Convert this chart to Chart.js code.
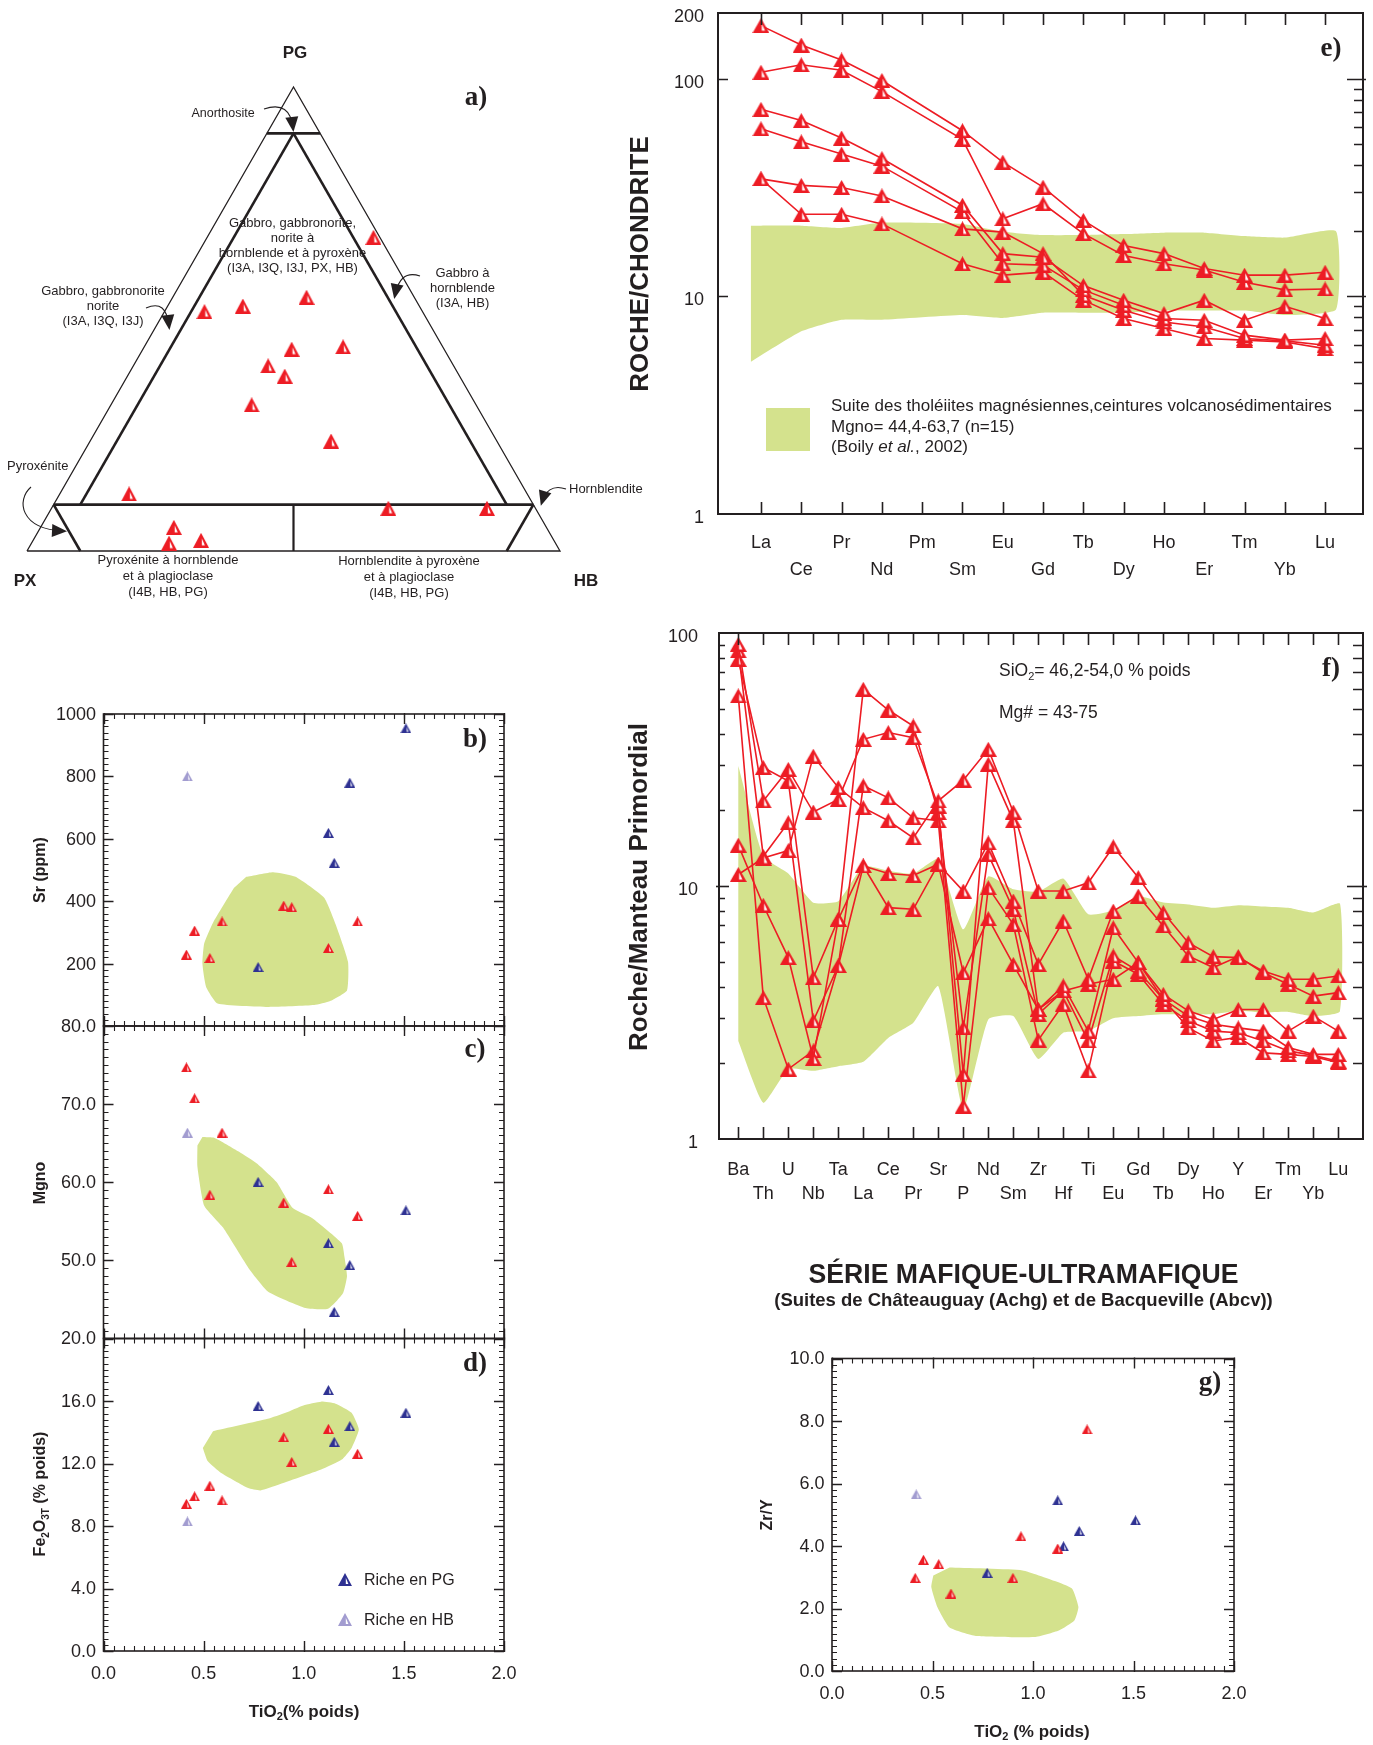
<!DOCTYPE html>
<html>
<head>
<meta charset="utf-8">
<script src="https://cdn.jsdelivr.net/npm/chart.js@4.4.0/dist/chart.umd.min.js"></script>
<style>
html, body { margin: 0; padding: 0; background: #fff; }
#page { position: relative; width: 1373px; height: 1745px; overflow: hidden; }
#page canvas { position: absolute; left: 0; top: 0; width: 1373px; height: 1745px; }
</style>
</head>
<body>
<div id="page">
<canvas id="cA" width="1373" height="1745"></canvas>
<canvas id="cE" width="1373" height="1745"></canvas>
<canvas id="cF" width="1373" height="1745"></canvas>
<canvas id="cB" width="1373" height="1745"></canvas>
<canvas id="cC" width="1373" height="1745"></canvas>
<canvas id="cD" width="1373" height="1745"></canvas>
<canvas id="cG" width="1373" height="1745"></canvas>
</div>
<script>
// ---- a) ternary PG / PX / HB (%)
var terPG = [67.6, 51.6, 52.8, 54.7, 43.5, 44.0, 39.9, 37.7, 31.5, 23.7, 12.3, 9.2, 9.2, 5.1, 1.7, 2.3];
var terPX = [1.2, 40.9, 33.1, 20.2, 28.6, 18.7, 34.8, 32.8, 42.1, 31.1, 74.7, 27.6, 9.1, 69.9, 72.5, 66.2];
var terHB = [31.2, 7.5, 14.1, 25.1, 27.9, 37.3, 25.3, 29.5, 26.4, 45.2, 13.0, 63.2, 81.7, 25.0, 25.8, 31.5];

// ---- e) REE / chondrite
var reeLabels = ['La', 'Ce', 'Pr', 'Nd', 'Pm', 'Sm', 'Eu', 'Gd', 'Tb', 'Dy', 'Ho', 'Er', 'Tm', 'Yb', 'Lu'];
var reeA = [175, 142.5, 121.7, 98.0, null, 57.6, 41.3, 31.7, 22.3, 17.1, 15.7, 13.4, 12.5, 12.5, 12.9];
var reeB = [106.9, 115.7, 109.1, 87.1, null, 52.6, 22.7, 26.6, 19.4, 15.4, 14.1, 13.2, 11.6, 10.7, 10.8];
var reeC = [72.2, 64.1, 53.3, 42.9, null, 26.2, 15.7, 15.1, 11.2, 9.59, 8.33, 9.59, 7.76, 9.0, 7.9];
var reeD = [58.8, 51.2, 45.0, 39.6, null, 24.4, 14.1, 13.9, 10.7, 9.09, 7.90, 7.76, 6.63, 6.29, 6.40];
var reeE = [34.6, 32.3, 31.6, 28.9, null, 20.4, 19.7, 15.7, 10.1, 8.63, 7.62, 7.23, 6.40, 6.24, 5.96];
var reeF = [34.6, 23.8, 23.8, 21.5, null, 14.1, 12.5, 12.9, 9.6, 7.9, 7.11, 6.40, 6.29, 6.17, 5.75];
var reeBandX = [-0.25, 0, 1, 2, 3, 5, 6, 7, 8, 9, 10, 11, 12, 13, 14.27, 14.27, 13, 12, 11, 10, 9, 8, 7, 6, 5, 3, 2, 1, -0.25];
var reeBandY = [21.1, 21.1, 21.1, 20.6, 21.8, 21.5, 19.8, 19.1, 19.1, 19.3, 19.6, 19.6, 18.9, 18.6, 19.9, 8.7, 8.2, 8.6, 8.6, 8.6, 8.4, 8.4, 8.4, 7.95, 8.2, 7.8, 7.8, 6.9, 5.0];
var reeTicks = [1, 10, 100, 200];

// ---- f) primitive mantle
var spLabels = ['Ba', 'Th', 'U', 'Nb', 'Ta', 'La', 'Ce', 'Pr', 'Sr', 'P', 'Nd', 'Sm', 'Zr', 'Hf', 'Ti', 'Eu', 'Gd', 'Tb', 'Dy', 'Ho', 'Y', 'Er', 'Tm', 'Yb', 'Lu'];
var spA = [11.1, 12.9, 13.8, 32.6, 24.5, 20.4, 18.1, 15.5, 21.7, 26.2, 34.7, 19.6, 9.55, 9.55, 10.3, 14.3, 10.8, 7.85, 5.97, 5.26, 5.21, 4.61, 4.28, 4.28, 4.41];
var spB = [14.5, 8.39, 5.21, 2.08, 7.38, 12.0, 8.21, 8.09, 12.2, 9.55, 14.8, 8.72, 4.90, 7.27, 4.28, 7.96, 9.13, 6.95, 5.29, 4.76, 5.26, 4.54, 4.09, 3.67, 3.79];
var spC = [90.2, 21.7, 28.9, 19.6, 22.0, 38.0, 40.4, 38.6, 20.7, 1.80, 30.3, 18.1, 3.25, 4.03, 2.67, 6.84, 4.98, 3.73, 3.21, 2.97, 3.25, 3.25, 2.67, 3.06, 2.67];
var spD = [78.7, 29.4, 26.0, 4.34, 7.38, 59.9, 49.6, 42.9, 19.5, 2.75, 13.3, 8.09, 3.11, 3.85, 2.44, 5.29, 4.61, 3.57, 3.06, 2.84, 2.75, 2.67, 2.30, 2.16, 2.16];
var spE = [56.4, 3.62, 1.89, 2.23, 4.83, 24.9, 22.3, 18.6, 18.1, 1.35, 9.85, 7.06, 2.46, 3.41, 1.86, 5.05, 4.48, 3.41, 2.93, 2.67, 2.63, 2.44, 2.23, 2.14, 2.03];
var spF = [85.0, 13.1, 17.8, 2.93, 4.83, 12.0, 11.2, 11.0, 12.2, 4.54, 7.43, 4.90, 3.25, 3.85, 4.09, 4.28, 4.98, 3.57, 2.75, 2.44, 2.52, 2.19, 2.16, 2.12, 2.00];
var spBandX = [0, 1, 2, 3, 4, 5, 6, 7, 8, 9, 10, 11, 12, 13, 14, 15, 16, 17, 18, 19, 20, 21, 22, 23, 24.07,
               24.07, 23, 22, 21, 20, 19, 18, 17, 16, 15, 14, 13, 12, 11, 10, 9, 8, 7, 6, 5, 4, 3, 2, 1, 0];
var spBandY = [29.8, 13.1, 11.2, 8.59, 8.7, 12.0, 11.5, 11.2, 12.8, 6.74, 10.9, 9.7, 9.5, 10.7, 7.73, 8.0, 9.1, 8.6, 8.45, 8.2, 8.4, 8.3, 8.2, 7.85, 8.5,
               3.2, 3.06, 3.18, 3.16, 3.21, 3.11, 3.11, 3.11, 3.06, 3.0, 2.67, 2.63, 2.07, 3.06, 2.97, 1.31, 4.02, 2.88, 2.51, 2.02, 1.94, 1.86, 1.89, 1.39, 2.44];
var spTicks = [1, 10, 100];

// ---- b, c, d, g) vs TiO2
var redTi = [0.414, 0.455, 0.531, 0.592, 0.90, 0.94, 1.123, 1.269];
var redSr = [229, 306, 218, 335, 386, 381, 250, 335];
var redMg = [74.7, 70.75, 58.4, 66.35, 57.4, 49.8, 59.1, 55.7];
var redFe = [9.42, 9.9, 10.58, 9.64, 13.69, 12.1, 14.22, 12.62];
var redZrY = [2.98, 3.56, 3.42, 2.48, 2.98, 4.31, 3.92, 7.73];
var pgTi = [0.772, 1.123, 1.152, 1.23, 1.51];
var pgSr = [189, 619, 523, 780, 954];
var pgMg = [60.05, 52.2, 43.4, 49.4, 56.4];
var pgFe = [15.68, 16.7, 13.39, 14.39, 15.25];
var pgZrY = [3.14, 5.46, 3.99, 4.48, 4.82];
var hbTi = [0.419];
var hbSr = [800];
var hbMg = [66.35];
var hbFe = [8.29];
var hbZrY = [5.65];

var bPolyX = [0.713, 0.847, 0.959, 1.102, 1.159, 1.221, 1.216, 1.132, 1.052, 0.82, 0.57, 0.512, 0.494, 0.503, 0.547, 0.651];
var bPolyY = [478, 493, 478, 411, 326, 206, 114, 80, 67, 61, 72, 126, 200, 265, 331, 442];
var cPolyX = [0.494, 0.553, 0.677, 0.766, 0.865, 0.945, 1.043, 1.19, 1.203, 1.216, 1.196, 1.121, 1.009, 0.822, 0.73, 0.597, 0.503, 0.469, 0.469];
var cPolyY = [65.8, 65.7, 63.9, 62.4, 60.0, 56.7, 55.4, 52.2, 50.5, 48.0, 45.8, 43.8, 43.9, 46.0, 48.8, 54.2, 57.0, 62.0, 64.7];
var dPolyX = [0.547, 0.82, 0.909, 0.998, 1.087, 1.159, 1.239, 1.275, 1.239, 1.19, 1.087, 0.873, 0.784, 0.722, 0.588, 0.521, 0.496];
var dPolyY = [14.07, 14.86, 15.25, 15.72, 15.96, 15.83, 15.25, 14.18, 13.0, 12.25, 11.61, 10.64, 10.28, 10.43, 11.39, 12.14, 13.0];
var gPolyX = [0.585, 0.948, 1.109, 1.194, 1.226, 1.206, 1.129, 1.008, 0.716, 0.585, 0.524, 0.494, 0.504];
var gPolyY = [3.31, 3.22, 2.88, 2.64, 2.05, 1.62, 1.30, 1.09, 1.12, 1.39, 2.05, 2.69, 3.06];

var tiTicks = [0, 0.5, 1, 1.5, 2];
var tiLabels = ['0.0', '0.5', '1.0', '1.5', '2.0'];
var srTicks = [200, 400, 600, 800, 1000];
var srLabels = ['200', '400', '600', '800', '1000'];
var mgTicks = [50, 60, 70, 80];
var mgLabels = ['50.0', '60.0', '70.0', '80.0'];
var feTicks = [0, 4, 8, 12, 16, 20];
var feLabels = ['0.0', '4.0', '8.0', '12.0', '16.0', '20.0'];
var zrTicks = [0, 2, 4, 6, 8, 10];
var zrLabels = ['0.0', '2.0', '4.0', '6.0', '8.0', '10.0'];

// ---------------------------------------------------------------
var W = 1373, H = 1745;
var INK = '#231f20', RED = '#ed1c24', NAVY = '#2e3192', LAV = '#a29cd0', GREEN = '#d4e28d';
var SANS = '"Liberation Sans", Arial, Helvetica, sans-serif';
var SERIF = '"Liberation Serif", "Times New Roman", serif';

function tri(w, h, col) {
  var c = document.createElement('canvas');
  c.width = w; c.height = h;
  var g = c.getContext('2d');
  g.fillStyle = col;
  g.beginPath(); g.moveTo(w / 2, 0); g.lineTo(w, h); g.lineTo(0, h); g.closePath(); g.fill();
  g.fillStyle = '#fff';
  g.beginPath();
  g.moveTo(w / 2 + 0.8, h * 0.36);
  g.lineTo(w / 2 + 0.8, h - h * 0.16);
  g.lineTo(w - w * 0.26, h - h * 0.16);
  g.closePath(); g.fill();
  return c;
}
var BIG = tri(17, 15, RED);
var TERN = tri(16, 15, RED);
var SR = tri(11, 10, RED), SN = tri(11, 10, NAVY), SL = tri(11, 10, LAV);
var LN = tri(14, 13, NAVY), LL = tri(14, 13, LAV);

function rich(ctx, parts, x, y, size, weight, align, maxW) {
  var fonts = parts.map(function (p) {
    var s = p[1] === 'sub' ? Math.round(size * 0.62) : size;
    return (p[1] === 'it' ? 'italic ' : '') + weight + ' ' + s + 'px ' + SANS;
  });
  var total = 0;
  parts.forEach(function (p, i) { ctx.font = fonts[i]; total += ctx.measureText(p[0]).width; });
  var k = maxW && total > maxW ? maxW / total : 1;
  var w = total * k;
  var x0 = align === 'center' ? x - w / 2 : (align === 'right' ? x - w : x);
  ctx.save();
  ctx.translate(x0, y);
  ctx.scale(k, 1);
  ctx.textAlign = 'left';
  ctx.textBaseline = 'middle';
  var cx = 0;
  parts.forEach(function (p, i) {
    ctx.font = fonts[i];
    ctx.fillText(p[0], cx, p[1] === 'sub' ? size * 0.32 : 0);
    cx += ctx.measureText(p[0]).width;
  });
  ctx.restore();
}
function txt(ctx, s, x, y, size, weight, align, maxW) { rich(ctx, [[s, '']], x, y, size, weight || 'normal', align || 'center', maxW); }
function vtxt(ctx, parts, x, y, size) {
  ctx.save(); ctx.translate(x, y); ctx.rotate(-Math.PI / 2);
  rich(ctx, parts, 0, 0, size, 'bold', 'center');
  ctx.restore();
}
function letter(ctx, s, x, y) {
  ctx.font = 'bold 27px ' + SERIF; ctx.textAlign = 'center'; ctx.textBaseline = 'middle';
  ctx.fillText(s, x, y);
}
function steps(a, b, st) { var r = []; for (var v = a; v <= b + st / 1000; v += st) r.push(+v.toFixed(4)); return r; }
function logMinor(a, b) { var r = []; for (var d = 1; d < b; d *= 10) for (var m = 2; m <= 9; m++) if (m * d < b) r.push(m * d); return r; }

function ticks(ch, axis, vals, len, sides, out) {
  var a = ch.chartArea, s = ch.scales[axis], ctx = ch.ctx;
  out = out || 0;
  ctx.beginPath();
  vals.forEach(function (v) {
    var p = Math.round(s.getPixelForValue(v)) + 0.5;
    if (axis === 'x') {
      if (sides.indexOf('b') >= 0) { ctx.moveTo(p, a.bottom + out); ctx.lineTo(p, a.bottom - len); }
      if (sides.indexOf('t') >= 0) { ctx.moveTo(p, a.top - out); ctx.lineTo(p, a.top + len); }
    } else {
      if (sides.indexOf('l') >= 0) { ctx.moveTo(a.left - out, p); ctx.lineTo(a.left + len, p); }
      if (sides.indexOf('r') >= 0) { ctx.moveTo(a.right + out, p); ctx.lineTo(a.right - len, p); }
    }
  });
  ctx.stroke();
}
function frame(ch, lw) {
  var a = ch.chartArea, ctx = ch.ctx;
  ctx.lineWidth = lw;
  ctx.strokeRect(a.left, a.top, a.right - a.left, a.bottom - a.top);
}
function arrow(ctx, p0, c1, c2, p1) {
  ctx.lineWidth = 1.1;
  ctx.beginPath(); ctx.moveTo(p0[0], p0[1]);
  ctx.bezierCurveTo(c1[0], c1[1], c2[0], c2[1], p1[0], p1[1]);
  ctx.stroke();
  var ang = Math.atan2(p1[1] - c2[1], p1[0] - c2[0]);
  ctx.save(); ctx.translate(p1[0], p1[1]); ctx.rotate(ang);
  ctx.beginPath(); ctx.moveTo(4, 0); ctx.lineTo(-11, -6.5); ctx.lineTo(-11, 6.5); ctx.closePath(); ctx.fill();
  ctx.restore();
}

// painters must exist before the charts draw (animation is off, so they draw at once)
var painters = {};
var decor = {
  id: 'decor',
  afterDraw: function (ch) {
    var f = painters[ch.canvas.id];
    if (!f) return;
    var c = ch.ctx;
    c.save(); c.fillStyle = INK; c.strokeStyle = INK;
    f(ch, c);
    c.restore();
  }
};

function opts(area, xs, ys) {
  return {
    responsive: false, animation: false, events: [], devicePixelRatio: 1,
    layout: { padding: { left: area[0], top: area[1], right: W - area[2], bottom: H - area[3] } },
    scales: { x: Object.assign({ display: false }, xs), y: Object.assign({ display: false }, ys) },
    plugins: { legend: { display: false }, tooltip: { enabled: false } }
  };
}
function pts(xs, ys) { return xs.map(function (x, i) { return { x: x, y: ys[i] }; }); }
function seq(vals) { var r = []; vals.forEach(function (v, i) { if (v != null) r.push({ x: i, y: v }); }); return r; }
function polyDs(data) {
  return { type: 'line', data: data, fill: 'shape', backgroundColor: GREEN, borderColor: 'rgba(0,0,0,0)',
           borderWidth: 0, pointRadius: 0, tension: 0.15, order: 9 };
}
function spiderDs(vals) {
  return { data: seq(vals), showLine: true, borderColor: RED, borderWidth: 1.6, pointStyle: BIG,
           pointRadius: 8, clip: false, order: 1 };
}
function markDs(xs, ys, img) { return { data: pts(xs, ys), pointStyle: img, pointRadius: 6, clip: false, order: 1 }; }

// ---------------- a) ternary ----------------
function tern(pg, hb) { return { x: (hb + pg / 2) / 100, y: pg / 100 }; }
function ternLine(list, lw) {
  return { type: 'line', data: list.map(function (p) { return tern(p[0], p[1]); }), borderColor: INK,
           borderWidth: lw, pointRadius: 0, fill: false, clip: false, order: 2 };
}
var terSamples = terPG.map(function (pg, i) { return tern(pg, terHB[i]); });
painters.cA = function (ch, ctx) {
  txt(ctx, 'PG', 295, 53, 17, 'bold');
  txt(ctx, 'PX', 25, 581, 17, 'bold');
  txt(ctx, 'HB', 586, 581, 17, 'bold');
  letter(ctx, 'a)', 476, 98);
  txt(ctx, 'Anorthosite', 223, 114, 12.5);
  ['Gabbro, gabbronorite,', 'norite à', 'hornblende et à pyroxène', '(I3A, I3Q, I3J, PX, HB)'].forEach(function (s, i) { txt(ctx, s, 292.5, 223 + i * 15, 13); });
  ['Gabbro, gabbronorite', 'norite', '(I3A, I3Q, I3J)'].forEach(function (s, i) { txt(ctx, s, 103, 291 + i * 15, 13); });
  ['Gabbro à', 'hornblende', '(I3A, HB)'].forEach(function (s, i) { txt(ctx, s, 462.5, 273 + i * 15, 13); });
  txt(ctx, 'Pyroxénite', 7, 466, 13, 'normal', 'left');
  txt(ctx, 'Hornblendite', 569, 489, 13, 'normal', 'left');
  ['Pyroxénite à hornblende', 'et à plagioclase', '(I4B, HB, PG)'].forEach(function (s, i) { txt(ctx, s, 168, 560 + i * 16, 13); });
  ['Hornblendite à pyroxène', 'et à plagioclase', '(I4B, HB, PG)'].forEach(function (s, i) { txt(ctx, s, 409, 561 + i * 16, 13); });
  arrow(ctx, [264, 109], [282, 103], [291, 110], [293, 128]);
  arrow(ctx, [146, 308], [160, 302], [167, 308], [169, 326]);
  arrow(ctx, [420, 276], [405, 271], [398, 280], [395, 295]);
  arrow(ctx, [31, 487], [16, 500], [20, 529], [63, 531]);
  arrow(ctx, [566, 489], [552, 484], [545, 492], [542, 502]);
};
new Chart(document.getElementById('cA'), {
  type: 'scatter',
  data: { datasets: [
    ternLine([[0, 0], [0, 100], [100, 0], [0, 0]], 1.3),
    ternLine([[10, 0], [10, 90]], 2.6),
    ternLine([[90, 0], [90, 10]], 2.6),
    ternLine([[90, 5], [10, 5]], 2.6),
    ternLine([[90, 5], [10, 85]], 2.6),
    ternLine([[10, 0], [0, 10]], 2.6),
    ternLine([[10, 90], [0, 90]], 2.6),
    ternLine([[10, 45], [0, 50]], 2.2),
    { data: terSamples, pointStyle: TERN, pointRadius: 7, clip: false, order: 1 }
  ] },
  options: opts([27, 87, 560, 551], { type: 'linear', min: 0, max: 1 }, { type: 'linear', min: 0, max: 1 }),
  plugins: [decor]
});

// ---------------- e) REE ----------------
painters.cE = function (ch, ctx) {
  var a = ch.chartArea, xs = ch.scales.x, ys = ch.scales.y;
  frame(ch, 2);
  ctx.lineWidth = 1.6;
  ticks(ch, 'x', reeLabels.map(function (l, i) { return i; }), 12, 'tb');
  ticks(ch, 'y', [10, 100], 10, 'l');
  ticks(ch, 'y', [10, 100], 16, 'r', 3);
  ticks(ch, 'y', logMinor(1, 200), 9, 'r');
  reeTicks.forEach(function (v) { txt(ctx, String(v), a.left - 14, ys.getPixelForValue(v) + 4, 18, 'normal', 'right'); });
  reeLabels.forEach(function (l, i) { txt(ctx, l, xs.getPixelForValue(i), i % 2 ? 570 : 543, 18); });
  vtxt(ctx, [['ROCHE/CHONDRITE', '']], 641, 264, 26);
  ctx.fillStyle = GREEN; ctx.fillRect(766, 408, 44, 43); ctx.fillStyle = INK;
  txt(ctx, 'Suite des tholéiites magnésiennes,ceintures volcanosédimentaires', 831, 406, 17, 'normal', 'left', 506);
  txt(ctx, 'Mgno= 44,4-63,7 (n=15)', 831, 427, 17, 'normal', 'left');
  rich(ctx, [['(Boily ', ''], ['et al.', 'it'], [', 2002)', '']], 831, 447, 17, 'normal', 'left');
  letter(ctx, 'e)', 1331, 49);
};
new Chart(document.getElementById('cE'), {
  type: 'scatter',
  data: { datasets: [polyDs(pts(reeBandX, reeBandY))].concat([reeA, reeB, reeC, reeD, reeE, reeF].map(spiderDs)) },
  options: opts([718, 13, 1363, 514], { type: 'linear', min: -1.067, max: 14.94 }, { type: 'logarithmic', min: 1, max: 200 }),
  plugins: [decor]
});

// ---------------- f) spider ----------------
painters.cF = function (ch, ctx) {
  var a = ch.chartArea, xs = ch.scales.x, ys = ch.scales.y;
  frame(ch, 2);
  ctx.lineWidth = 1.6;
  ticks(ch, 'x', spLabels.map(function (l, i) { return i; }), 12, 'tb');
  ticks(ch, 'y', logMinor(1, 100), 6, 'l');
  ticks(ch, 'y', [10], 10, 'l', 3);
  ticks(ch, 'y', logMinor(1, 100), 10, 'r');
  ticks(ch, 'y', [10], 16, 'r', 4);
  spTicks.forEach(function (v) { txt(ctx, String(v), 698, ys.getPixelForValue(v) + 4, 18, 'normal', 'right'); });
  spLabels.forEach(function (l, i) { txt(ctx, l, xs.getPixelForValue(i), i % 2 ? 1194 : 1170, 18); });
  vtxt(ctx, [['Roche/Manteau Primordial', '']], 640, 887, 26);
  rich(ctx, [['SiO', ''], ['2', 'sub'], ['= 46,2-54,0 % poids', '']], 999, 671, 17.5, 'normal', 'left');
  txt(ctx, 'Mg# = 43-75', 999, 713, 17.5, 'normal', 'left');
  letter(ctx, 'f)', 1331, 669);
};
new Chart(document.getElementById('cF'), {
  type: 'scatter',
  data: { datasets: [polyDs(pts(spBandX, spBandY))].concat([spA, spB, spC, spD, spE, spF].map(spiderDs)) },
  options: opts([719, 633, 1363, 1139], { type: 'linear', min: -0.772, max: 24.99 }, { type: 'logarithmic', min: 1, max: 100 }),
  plugins: [decor]
});

// ---------------- b, c, d, g ----------------
function xyChart(id, area, ymin, ymax, poly, ys) {
  new Chart(document.getElementById(id), {
    type: 'scatter',
    data: { datasets: [polyDs(poly), markDs(redTi, ys[0], SR), markDs(pgTi, ys[1], SN), markDs(hbTi, ys[2], SL)] },
    options: opts(area, { type: 'linear', min: 0, max: 2 }, { type: 'linear', min: ymin, max: ymax }),
    plugins: [decor]
  });
}
function xyPaint(minor, major, labels, extra) {
  return function (ch, ctx) {
    var a = ch.chartArea, ys = ch.scales.y;
    ctx.lineWidth = 1.1;
    ticks(ch, 'x', steps(0, 2, 0.05), 5, 'tb');
    ticks(ch, 'y', steps(ys.min, ys.max, minor), 5, 'lr');
    ctx.lineWidth = 1.4;
    ticks(ch, 'x', tiTicks, 10, 'tb', 1);
    ticks(ch, 'y', major, 10, 'lr');
    frame(ch, 1.6);
    labels.forEach(function (l, i) { txt(ctx, l, a.left - 7.5, ys.getPixelForValue(major[i]) + 1, 18, 'normal', 'right'); });
    extra(ch, ctx);
  };
}
painters.cB = xyPaint(20, srTicks, srLabels, function (ch, ctx) {
  vtxt(ctx, [['Sr (ppm)', '']], 41, 870, 16);
  letter(ctx, 'b)', 475, 740);
});
xyChart('cB', [103.5, 714, 504, 1026], 0, 1000, pts(bPolyX, bPolyY), [redSr, pgSr, hbSr]);

painters.cC = xyPaint(1, mgTicks, mgLabels, function (ch, ctx) {
  vtxt(ctx, [['Mgno', '']], 41, 1183, 16);
  letter(ctx, 'c)', 475, 1050);
});
xyChart('cC', [103.5, 1026, 504, 1338.5], 40, 80, pts(cPolyX, cPolyY), [redMg, pgMg, hbMg]);

painters.cD = xyPaint(0.4, feTicks, feLabels, function (ch, ctx) {
  var xs = ch.scales.x;
  tiLabels.forEach(function (l, i) { txt(ctx, l, xs.getPixelForValue(tiTicks[i]), 1674, 18); });
  vtxt(ctx, [['Fe', ''], ['2', 'sub'], ['O', ''], ['3T', 'sub'], [' (% poids)', '']], 41, 1494, 16);
  rich(ctx, [['TiO', ''], ['2', 'sub'], ['(% poids)', '']], 304, 1712, 17, 'bold', 'center');
  letter(ctx, 'd)', 475, 1364);
  ctx.drawImage(LN, 338, 1573);
  ctx.drawImage(LL, 338, 1613);
  txt(ctx, 'Riche en PG', 364, 1581, 16, 'normal', 'left');
  txt(ctx, 'Riche en HB', 364, 1621, 16, 'normal', 'left');
});
xyChart('cD', [103.5, 1338.5, 504, 1651], 0, 20, pts(dPolyX, dPolyY), [redFe, pgFe, hbFe]);

painters.cG = xyPaint(0.2, zrTicks, zrLabels, function (ch, ctx) {
  var xs = ch.scales.x;
  tiLabels.forEach(function (l, i) { txt(ctx, l, xs.getPixelForValue(tiTicks[i]), 1694, 18); });
  vtxt(ctx, [['Zr/Y', '']], 768, 1515, 16);
  rich(ctx, [['TiO', ''], ['2', 'sub'], [' (% poids)', '']], 1032, 1732, 17, 'bold', 'center');
  letter(ctx, 'g)', 1210, 1383);
  txt(ctx, 'SÉRIE MAFIQUE-ULTRAMAFIQUE', 1023.5, 1276, 27, 'bold', 'center', 430);
  txt(ctx, '(Suites de Châteauguay (Achg) et de Bacqueville (Abcv))', 1023.5, 1301, 18.5, 'bold', 'center', 502);
});
xyChart('cG', [832, 1358.5, 1234, 1671], 0, 10, pts(gPolyX, gPolyY), [redZrY, pgZrY, hbZrY]);
</script>
</body>
</html>
